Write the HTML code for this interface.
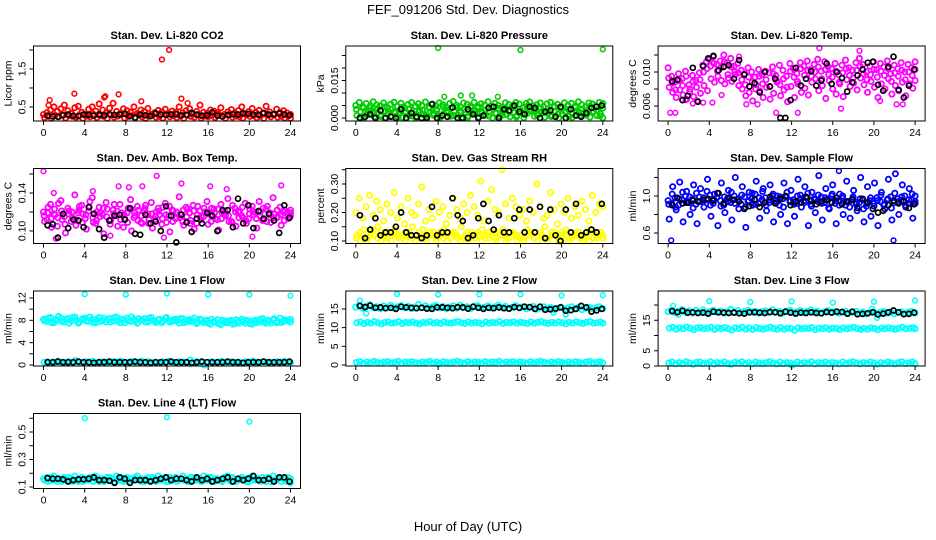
<!DOCTYPE html>
<html><head><meta charset="utf-8"><style>
html,body{margin:0;padding:0;background:#fff}
svg{display:block;font-family:"Liberation Sans",Arial,sans-serif}
</style></head><body>
<svg id="fig" width="936" height="540" viewBox="0 0 936 540" xmlns="http://www.w3.org/2000/svg">
<rect width="936" height="540" fill="#fff"/>
<text x="468" y="14" text-anchor="middle" font-size="13">FEF_091206  Std. Dev. Diagnostics</text>
<text x="468" y="531" text-anchor="middle" font-size="13">Hour of Day (UTC)</text>
</svg>
<script>
const xTicks=[0,4,8,12,16,20,24];
// CO2
const co2A=[0.3,0.35,0.42,0.5,0.38,0.45,0.55,0.4,0.33,0.48,0.52,0.36,0.3,0.44,0.5,0.39,0.58,0.42,0.34,0.47,0.6,0.38,0.32,0.45,0.4,0.36,0.5,0.33,0.42,0.38,0.46,0.3,0.35,0.41,0.37,0.44,0.32,0.39,0.36,0.5,0.34,0.4,0.45,0.31,0.38,0.55,0.36,0.33,0.42,0.39,0.35,0.48,0.3,0.37,0.43,0.34,0.4,0.5,0.32,0.38,0.46,0.35,0.41,0.33,0.52,0.37,0.3,0.44,0.36,0.4,0.34,0.3];
const co2B=[0.22,0.26,0.2,0.28,0.24,0.3,0.21,0.27,0.25,0.23,0.29,0.2,0.26,0.24,0.31,0.22,0.27,0.25,0.2,0.28,0.23,0.26,0.3,0.21,0.25,0.27,0.22,0.29,0.24,0.2,0.26,0.28,0.23,0.25,0.21,0.3,0.24,0.27,0.22,0.26,0.2,0.28,0.25,0.23,0.29,0.21,0.26,0.24,0.27,0.22,0.3,0.25,0.2,0.28,0.23,0.26,0.24,0.21,0.29,0.25,0.27,0.22,0.26,0.2,0.28,0.24,0.3,0.23,0.25,0.21,0.27,0.2];
const co2OutX=[11.5,12.2,3,7.3,13.4,0.6,6,9.5,0.5,5.9,14];
const co2OutY=[1.75,2.0,0.85,0.83,0.72,0.68,0.78,0.65,0.55,0.75,0.6];
const co2K=[0.27,0.25,0.24,0.28,0.3,0.27,0.26,0.3,0.29,0.27,0.3,0.28,0.31,0.29,0.3,0.32,0.26,0.22,0.3,0.28,0.26,0.33,0.3,0.29,0.3,0.31,0.28,0.29,0.34,0.3,0.27,0.28,0.36,0.27,0.25,0.29,0.31,0.3,0.33,0.32,0.3,0.29,0.34,0.3,0.31,0.33,0.3,0.28];
// Pressure
const pA=[0.005,0.0062,0.0045,0.0058,0.004,0.0065,0.0052,0.0048,0.006,0.0043,0.0055,0.0063,0.0047,0.0059,0.0041,0.0054,0.0062,0.0046,0.0057,0.005,0.0064,0.0044,0.0056,0.0049,0.0061,0.0053,0.0042,0.0058,0.0066,0.0051,0.0045,0.006,0.0055,0.0048,0.0063,0.004,0.0057,0.0052,0.0065,0.0046,0.0059,0.005,0.0043,0.0061,0.0054,0.0047,0.0062,0.0056,0.0041,0.0058,0.0064,0.0049,0.0053,0.006,0.0045,0.0057,0.0063,0.0048,0.0055,0.0042,0.0061,0.0051,0.0059,0.0046,0.0065,0.0053,0.0044,0.006,0.0056,0.0049,0.0062,0.0058];
const pB=[0.001,0.0025,0,0.0018,0.003,0.0005,0.0022,0.0012,0,0.0028,0.0008,0.002,0.0015,0.0003,0.0026,0.001,0.0019,0,0.003,0.0014,0.0006,0.0024,0.0011,0.0029,0.0002,0.0017,0.0021,0.0007,0.0027,0.0013,0,0.0023,0.0009,0.0016,0.003,0.0004,0.002,0.0012,0.0026,0,0.0018,0.0008,0.0028,0.0014,0.0005,0.0022,0.001,0.0025,0.0001,0.0019,0.0029,0.0007,0.0016,0.0024,0.0003,0.0021,0.0011,0.0027,0,0.0015,0.0023,0.0006,0.0018,0.0028,0.0009,0.002,0.0013,0.0004,0.0026,0.001,0.0017,0.0001];
const pC=[0.0035,0.0002,0.004,0.0012,0.0048,0.0022,0.0038,0.0006,0.0044,0.0016,0.0034,0.0026,0.0004,0.0042,0.002,0.0036,0.0008,0.0046,0.0024,0.0032,0.0012,0.004,0.0018,0.0036,0.0005,0.0044,0.0028,0.0038,0.001,0.0042,0.0022,0.0034,0.0002,0.004,0.0016,0.0046,0.0026,0.0032,0.0008,0.0044,0.002,0.0038,0.0012,0.0034,0.0024,0.0042,0.0004,0.0036,0.0018,0.0046,0.0028,0.0032,0.001,0.004,0.0022,0.0036,0.0006,0.0044,0.0016,0.0038,0.0026,0.0034,0.0002,0.0042,0.002,0.0036,0.0012,0.0046,0.0024,0.0032,0.0008,0.004];
const pOutX=[8,16,24,8.6,10.2,11.3,13.8];
const pOutY=[0.028,0.0272,0.0275,0.0085,0.009,0.009,0.0085];
const pK=[0,0.0005,0.0015,0,0.003,0,0.0005,0,0.0035,0,0.002,0.0005,0,0,0.0055,0,0.001,0.0005,0.0042,0,0,0.0035,0.0015,0,0.001,0.004,0.0045,0,0.0035,0.003,0.005,0.0025,0.0015,0.0045,0.004,0,0.0025,0.003,0.0005,0.0045,0,0.0035,0.001,0.0005,0.002,0.004,0.0045,0.005];
// Li-820 temp
const tA=[0.0105,0.0095,0.0088,0.0098,0.0092,0.0101,0.0085,0.0096,0.0090,0.0099,0.0108,0.0112,0.0115,0.0118,0.0109,0.0113,0.0120,0.0111,0.0116,0.0107,0.0110,0.0102,0.0098,0.0105,0.0100,0.0094,0.0103,0.0097,0.0101,0.0099,0.0106,0.0096,0.0108,0.0102,0.0095,0.0110,0.0104,0.0098,0.0111,0.0107,0.0113,0.0103,0.0109,0.0115,0.0101,0.0112,0.0106,0.0104,0.0110,0.0097,0.0108,0.0114,0.0105,0.0102,0.0111,0.0116,0.0109,0.0100,0.0107,0.0112,0.0103,0.0110,0.0106,0.0113,0.0098,0.0108,0.0104,0.0111,0.0100,0.0109,0.0105,0.0112];
const tB=[0.0082,0.0076,0.0070,0.0079,0.0073,0.0068,0.0080,0.0071,0.0066,0.0075,0.0084,0.0078,0.0092,0.0088,0.0095,0.0090,0.0086,0.0093,0.0089,0.0097,0.0084,0.0080,0.0072,0.0076,0.0066,0.0085,0.0078,0.0070,0.0082,0.0068,0.0075,0.0088,0.0072,0.0079,0.0065,0.0083,0.0070,0.0086,0.0076,0.0081,0.0073,0.0088,0.0092,0.0078,0.0084,0.0069,0.0090,0.0080,0.0074,0.0086,0.0071,0.0091,0.0083,0.0087,0.0079,0.0093,0.0085,0.0076,0.0089,0.0082,0.0070,0.0086,0.0080,0.0092,0.0074,0.0084,0.0078,0.0088,0.0072,0.0086,0.0081,0.0090];
const tC=[0.0093,0.0087,0.0079,0.0090,0.0084,0.0095,0.0077,0.0089,0.0082,0.0091,0.0100,0.0104,0.0107,0.0110,0.0101,0.0105,0.0112,0.0097,0.0106,0.0100,0.0099,0.0091,0.0085,0.0094,0.0088,0.0080,0.0095,0.0086,0.0091,0.0083,0.0098,0.0090,0.0085,0.0092,0.0082,0.0101,0.0094,0.0089,0.0104,0.0096,0.0102,0.0095,0.0100,0.0106,0.0092,0.0103,0.0097,0.0094,0.0101,0.0088,0.0099,0.0104,0.0096,0.0093,0.0102,0.0107,0.0098,0.0091,0.0097,0.0103,0.0094,0.0101,0.0096,0.0104,0.0089,0.0099,0.0095,0.0102,0.0091,0.0100,0.0096,0.0103];
const tOutX=[0.2,0.7,1.7,2.4,3.4,4.3,5.2,6.9,7.6,8.7,10.5,12.6,16.8,18.6,20.6,22.2,22.8,14.7];
const tOutY=[0.0052,0.0052,0.0067,0.0063,0.0064,0.0064,0.0073,0.0118,0.0062,0.0062,0.0052,0.0052,0.0057,0.0125,0.0066,0.0062,0.0062,0.0128];
const tK=[0.0089,0.0091,0.0067,0.0072,0.0105,0.0065,0.0107,0.0116,0.0119,0.0102,0.0106,0.0108,0.0092,0.0114,0.0097,0.0083,0.0087,0.0076,0.0100,0.0083,0.0092,0.0046,0.0046,0.0067,0.0105,0.0084,0.0092,0.0101,0.0084,0.0090,0.0110,0.0086,0.0100,0.0093,0.0077,0.0088,0.0096,0.0103,0.0111,0.0112,0.0085,0.0078,0.0106,0.0118,0.0079,0.0070,0.0084,0.0103];
// Amb box temp
const aA=[0.120,0.112,0.128,0.118,0.105,0.132,0.115,0.124,0.110,0.138,0.119,0.127,0.113,0.121,0.135,0.108,0.125,0.117,0.130,0.111,0.122,0.116,0.128,0.104,0.119,0.133,0.114,0.126,0.109,0.121,0.118,0.130,0.112,0.124,0.107,0.129,0.116,0.122,0.113,0.136,0.110,0.125,0.119,0.127,0.108,0.121,0.115,0.131,0.117,0.123,0.112,0.128,0.118,0.134,0.110,0.124,0.120,0.116,0.129,0.113,0.126,0.119,0.131,0.111,0.123,0.117,0.135,0.114,0.125,0.120,0.118,0.122];
const aB=[0.110,0.125,0.104,0.117,0.129,0.112,0.098,0.121,0.114,0.106,0.126,0.118,0.102,0.131,0.109,0.120,0.115,0.097,0.123,0.111,0.128,0.105,0.119,0.113,0.124,0.100,0.116,0.122,0.108,0.127,0.112,0.103,0.120,0.117,0.125,0.109,0.099,0.121,0.114,0.118,0.106,0.123,0.111,0.102,0.126,0.115,0.120,0.107,0.124,0.113,0.101,0.119,0.116,0.110,0.127,0.105,0.121,0.114,0.108,0.123,0.117,0.103,0.120,0.112,0.126,0.109,0.118,0.115,0.106,0.122,0.113,0.119];
const aC=[0.116,0.119,0.113,0.123,0.114,0.121,0.107,0.118,0.120,0.112,0.122,0.109,0.117,0.125,0.114,0.111,0.119,0.124,0.115,0.107,0.118,0.121,0.112,0.117,0.109,0.123,0.119,0.111,0.116,0.124,0.108,0.118,0.115,0.121,0.113,0.117,0.126,0.110,0.120,0.114,0.122,0.115,0.108,0.121,0.117,0.112,0.124,0.118,0.110,0.119,0.123,0.113,0.121,0.116,0.109,0.120,0.114,0.125,0.111,0.118,0.121,0.113,0.116,0.124,0.110,0.119,0.114,0.122,0.117,0.111,0.120,0.116];
const aOutX=[0,1,4.8,7.3,8.3,9.6,11,13.4,16.2,17.8,23.1,1.2,11.7,20.3,6.5];
const aOutY=[0.163,0.140,0.142,0.147,0.146,0.147,0.158,0.150,0.147,0.144,0.148,0.092,0.093,0.094,0.095];
const aK=[0.106,0.107,0.093,0.118,0.103,0.112,0.111,0.104,0.125,0.118,0.102,0.093,0.111,0.116,0.117,0.112,0.124,0.097,0.096,0.117,0.108,0.110,0.100,0.126,0.116,0.088,0.117,0.109,0.099,0.113,0.108,0.119,0.116,0.100,0.122,0.122,0.104,0.134,0.108,0.127,0.103,0.121,0.113,0.118,0.111,0.098,0.127,0.114];
// RH
const rA=[0.20,0.25,0.18,0.22,0.26,0.19,0.24,0.21,0.17,0.23,0.20,0.27,0.18,0.22,0.16,0.25,0.20,0.19,0.23,0.29,0.17,0.21,0.18,0.24,0.20,0.22,0.16,0.19,0.25,0.21,0.18,0.23,0.20,0.26,0.22,0.19,0.31,0.17,0.24,0.28,0.21,0.20,0.35,0.23,0.18,0.25,0.22,0.19,0.21,0.17,0.24,0.20,0.30,0.22,0.18,0.19,0.27,0.21,0.16,0.23,0.20,0.25,0.18,0.22,0.19,0.24,0.21,0.17,0.26,0.20,0.23,0.22];
const rB=[0.12,0.10,0.14,0.11,0.13,0.12,0.15,0.10,0.11,0.13,0.12,0.14,0.11,0.12,0.10,0.13,0.15,0.12,0.11,0.14,0.10,0.12,0.13,0.11,0.12,0.14,0.10,0.13,0.12,0.11,0.15,0.12,0.10,0.13,0.11,0.12,0.14,0.12,0.11,0.13,0.10,0.12,0.14,0.11,0.13,0.12,0.10,0.12,0.11,0.14,0.12,0.13,0.10,0.12,0.15,0.11,0.12,0.13,0.10,0.12,0.14,0.11,0.12,0.13,0.11,0.10,0.12,0.14,0.11,0.12,0.13,0.12];
const rC=[0.11,0.13,0.12,0.10,0.12,0.14,0.11,0.13,0.12,0.11,0.10,0.13,0.12,0.11,0.13,0.12,0.11,0.10,0.13,0.12,0.11,0.13,0.12,0.10,0.13,0.11,0.12,0.11,0.13,0.12,0.10,0.11,0.13,0.12,0.11,0.13,0.10,0.11,0.13,0.12,0.11,0.13,0.12,0.10,0.11,0.13,0.12,0.11,0.10,0.12,0.13,0.11,0.12,0.13,0.11,0.10,0.13,0.12,0.11,0.13,0.12,0.10,0.11,0.12,0.13,0.11,0.12,0.10,0.13,0.11,0.12,0.11];
const rK=[0.19,0.11,0.14,0.18,0.12,0.13,0.13,0.15,0.20,0.13,0.12,0.12,0.11,0.12,0.22,0.12,0.13,0.13,0.25,0.19,0.17,0.11,0.12,0.18,0.23,0.17,0.14,0.19,0.13,0.13,0.18,0.21,0.13,0.21,0.13,0.22,0.11,0.21,0.12,0.10,0.21,0.13,0.23,0.12,0.13,0.14,0.13,0.23];
// Sample flow
const sA=[0.95,0.92,0.98,0.90,0.96,1.00,0.93,0.97,0.91,0.99,0.94,0.96,1.01,0.92,0.98,0.95,0.90,0.97,0.93,1.00,0.96,0.91,0.99,0.94,0.97,1.02,0.92,0.96,0.98,0.93,1.00,0.95,0.90,0.97,0.99,0.94,0.96,0.92,1.01,0.95,0.98,0.91,0.97,0.94,0.99,0.93,0.96,1.00,0.92,0.95,0.98,0.90,0.94,0.97,0.91,0.93,0.96,0.89,0.95,0.92,0.98,0.94,0.90,0.96,0.99,0.93,0.97,0.95,1.00,0.92,0.96,0.94];
const sB=[0.75,1.10,0.85,1.15,0.72,1.05,0.80,1.12,0.70,1.08,0.88,1.18,0.78,1.02,0.68,1.14,0.82,1.06,0.74,1.20,0.86,1.10,0.66,1.04,0.90,1.16,0.76,1.08,0.84,1.12,0.72,1.00,0.80,1.14,0.70,1.06,0.78,1.18,0.88,1.10,0.68,1.04,0.82,1.22,0.74,1.08,0.86,1.12,0.70,1.02,0.80,1.16,0.76,1.06,0.84,1.20,0.72,1.10,0.78,1.14,0.68,1.04,0.86,1.18,0.74,1.24,0.80,1.12,0.88,1.08,0.76,1.00];
const sC=[0.91,1.02,0.88,0.97,1.04,0.93,0.99,0.87,1.03,0.94,0.98,1.05,0.90,0.96,1.03,0.89,0.99,0.94,1.04,0.92,0.97,1.01,0.88,0.95,1.03,0.91,0.98,1.05,0.90,0.96,1.02,0.93,0.99,0.88,1.04,0.95,0.91,1.00,0.97,0.93,1.03,0.89,0.96,1.01,0.92,0.98,0.87,1.02,0.95,0.90,1.00,0.94,0.88,0.99,0.93,0.97,0.86,0.92,0.98,0.89,0.95,1.01,0.91,0.97,0.87,1.03,0.94,0.99,0.90,0.96,1.02,0.92];
const sOutX=[0.3,21.9,16.6];
const sOutY=[0.52,0.52,1.27];
const sK=[0.90,0.98,0.92,0.93,0.95,0.94,0.96,0.97,0.95,1.03,0.92,0.98,0.96,0.94,0.86,0.89,0.96,0.88,0.93,0.99,0.92,0.97,1.00,0.90,0.94,0.93,0.99,0.95,0.91,0.94,0.96,0.93,0.98,0.91,0.94,0.96,0.87,0.97,0.93,0.86,0.82,0.84,0.90,0.95,0.92,0.94,0.87,0.91];
// Line 1
const l1A=[8.2,7.8,8.5,7.6,8.0,8.4,7.7,8.3,7.9,8.6,7.5,8.1,8.4,7.8,8.2,7.6,8.5,8.0,7.7,8.3,7.9,8.6,7.6,8.1,8.4,7.8,8.2,7.5,8.0,8.3,7.7,8.5,7.9,8.1,7.6,8.4,8.0,7.8,8.2,7.5,8.3,7.7,8.1,7.9,7.4,8.2,7.6,8.0,7.3,7.8,8.1,7.2,7.9,7.6,8.0,7.4,7.8,8.2,7.5,7.9,7.3,8.0,7.7,8.3,7.5,7.9,8.1,7.6,8.4,7.8,8.0,7.7];
const l1B=[7.9,8.4,7.6,8.1,8.7,7.8,8.2,7.5,8.5,8.0,7.7,8.3,7.9,8.6,7.6,8.2,7.8,8.4,8.1,7.7,8.5,7.9,8.2,7.6,8.0,8.6,7.8,8.3,8.1,7.7,8.4,8.0,7.6,8.2,7.9,8.5,7.7,8.1,7.9,8.3,7.6,8.0,7.8,8.4,7.7,8.1,7.9,7.5,8.2,7.7,7.4,8.0,7.6,7.9,7.3,8.1,7.5,7.8,8.0,7.4,7.9,7.6,8.2,7.7,8.0,7.5,8.3,7.8,7.6,8.1,7.9,8.2];
const l1C=[0.5,0.6,0.4,0.5,0.7,0.5,0.4,0.6,0.5,0.8,0.5,0.4,0.6,0.5,0.7,0.4,0.5,0.6,0.5,0.4,0.6,0.5,0.7,0.5,0.4,0.6,0.5,0.5,0.7,0.4,0.6,0.5,0.5,0.4,0.6,0.5,0.7,0.5,0.4,0.6,0.5,0.5,0.9,0.4,0.6,0.5,0.0,0.5,0.6,0.4,0.5,0.7,0.5,0.4,0.6,0.5,0.5,0.4,0.6,0.5,0.7,0.5,0.4,0.6,0.5,0.5,0.4,0.6,0.5,0.7,0.5,0.4];
const l1OutX=[4,8,12,16,20,24];
const l1OutY=[12.7,12.6,12.8,12.6,12.6,12.4];
const l1K=[0.5,0.5,0.6,0.5,0.5,0.5,0.6,0.5,0.5,0.4,0.5,0.5,0.6,0.5,0.5,0.5,0.5,0.6,0.5,0.5,0.4,0.5,0.5,0.5,0.6,0.5,0.5,0.5,0.4,0.5,0.6,0.5,0.5,0.5,0.5,0.6,0.5,0.5,0.4,0.5,0.5,0.5,0.6,0.5,0.5,0.5,0.5,0.6];
// Line 2
const l2A=[15.5,15.9,15.2,15.7,16.1,15.3,15.6,15.0,15.8,15.4,16.0,15.2,15.6,15.9,15.3,15.7,15.1,15.5,16.2,15.4,15.8,15.2,15.6,15.9,15.3,15.7,15.0,15.5,15.8,15.2,16.0,15.4,15.6,15.1,15.7,15.9,15.3,15.5,15.8,15.2,15.6,16.0,15.4,15.7,15.1,15.5,15.9,15.3,15.6,15.0,15.4,15.7,14.9,15.3,15.6,15.0,15.4,14.8,15.2,15.5,14.9,15.3,15.6,15.0,15.4,14.8,15.2,15.5,15.0,15.3,15.6,15.1];
const l2B=[11.3,11.5,11.1,11.4,11.2,11.6,11.3,11.0,11.4,11.5,11.2,11.3,11.6,11.1,11.4,11.3,11.5,11.2,11.0,11.4,11.3,11.6,11.2,11.4,11.1,11.5,11.3,11.2,11.4,11.6,11.3,11.1,11.5,11.2,11.4,11.3,11.0,11.5,11.2,11.4,11.3,11.6,11.1,11.4,11.3,11.5,11.2,11.4,11.3,11.1,11.5,11.2,11.4,11.6,11.3,11.1,11.4,11.2,11.5,11.3,11.0,11.4,11.2,11.5,11.3,11.1,11.4,11.6,11.2,11.3,11.5,11.2];
const l2C=[0.7,0.9,0.5,0.8,0.6,1.0,0.7,0.5,0.8,0.9,0.6,0.7,1.0,0.5,0.8,0.7,0.9,0.6,0.5,0.8,0.7,1.0,0.6,0.8,0.5,0.9,0.7,0.6,0.8,1.0,0.7,0.5,0.9,0.6,0.8,0.7,0.5,0.9,0.6,0.8,0.7,1.0,0.5,0.8,0.7,0.9,0.6,0.8,0.7,0.5,0.9,0.6,0.8,1.0,0.7,0.5,0.8,0.6,0.9,0.7,0.5,0.8,0.6,0.9,0.7,0.5,0.8,1.0,0.6,0.7,0.9,0.6];
const l2OutX=[4,8,12,16,20,24,0.4,1,19.2,20.4,8];
const l2OutY=[19.0,18.8,18.9,18.9,18.6,18.7,17.2,13.8,14.0,13.5,0.2];
const l2K=[15.8,15.5,15.9,15.3,15.4,15.2,15.3,15.0,15.6,15.4,15.3,15.2,15.3,15.1,15.0,15.4,15.4,15.3,15.2,15.5,15.4,15.1,15.6,15.3,15.0,15.3,15.2,15.4,15.2,15.1,15.5,15.3,15.6,15.5,15.0,15.6,14.8,14.9,15.1,15.4,14.5,14.7,15.0,15.8,15.4,14.3,14.6,15.0];
// Line 3
const l3A=[17.8,18.3,17.5,18.0,18.5,17.6,18.1,17.3,18.2,17.7,18.4,17.5,17.9,18.3,17.6,18.0,17.4,17.8,18.6,17.7,18.2,17.5,17.9,18.3,17.6,18.0,17.3,17.8,18.1,17.5,18.4,17.7,17.9,17.4,18.0,18.3,17.6,17.8,18.2,17.5,17.9,18.4,17.7,18.0,17.4,17.8,18.2,17.6,17.9,17.3,17.7,18.0,17.2,17.6,17.9,17.3,17.7,17.1,17.5,17.8,17.2,17.6,17.9,17.3,17.7,17.1,17.5,17.8,17.3,17.6,17.9,17.4];
const l3B=[12.4,12.7,12.1,12.5,12.2,12.8,12.4,11.9,12.5,12.6,12.2,12.4,12.7,12.0,12.5,12.3,12.6,12.2,11.8,12.5,12.3,12.7,12.1,12.5,12.0,12.6,12.3,12.1,12.4,12.7,12.3,12.0,12.6,12.1,12.4,12.3,11.7,12.5,12.2,12.4,12.3,12.6,11.9,12.4,12.2,12.5,12.1,12.4,12.3,12.0,12.5,12.2,12.4,12.7,12.3,12.0,12.4,12.1,12.5,12.3,11.9,12.4,12.2,12.5,12.3,12.0,12.4,12.7,12.2,12.3,12.6,12.2];
const l3C=[1.0,1.3,0.7,1.1,0.8,1.4,1.0,0.6,1.2,1.3,0.8,1.0,1.4,0.7,1.1,1.0,1.3,0.8,0.6,1.2,1.0,1.4,0.8,1.1,0.7,1.3,1.0,0.8,1.1,1.4,1.0,0.7,1.3,0.8,1.1,1.0,0.6,1.3,0.8,1.1,1.0,1.4,0.7,1.1,1.0,1.3,0.8,1.1,1.0,0.7,1.3,0.8,1.1,1.4,1.0,0.7,1.1,0.8,1.3,1.0,0.6,1.1,0.8,1.3,1.0,0.7,1.1,1.4,0.8,1.0,1.3,0.8];
const l3OutX=[4,8,12,16,20,24,0.5,0.3,1,20.3,19.8,12];
const l3OutY=[21.3,21.0,21.2,20.8,21.1,21.5,19.7,18.2,16.8,15.8,18.8,0.1];
const l3K=[18.0,17.6,18.1,17.5,17.6,17.4,17.5,17.2,17.8,17.6,17.5,17.4,17.5,17.3,17.2,17.6,17.6,17.5,17.4,17.7,17.6,17.3,17.8,17.5,17.2,17.5,17.4,17.6,17.4,17.3,17.7,17.5,17.8,17.7,17.2,17.8,17.0,17.1,17.3,17.6,16.9,17.2,17.6,18.2,17.6,17.0,17.1,17.5];
// Line 4
const l4A=[0.16,0.17,0.15,0.18,0.14,0.16,0.17,0.15,0.16,0.18,0.14,0.17,0.16,0.15,0.17,0.18,0.14,0.16,0.15,0.17,0.16,0.18,0.15,0.14,0.17,0.16,0.15,0.18,0.16,0.14,0.17,0.15,0.16,0.18,0.15,0.17,0.14,0.16,0.17,0.15,0.18,0.16,0.14,0.17,0.15,0.16,0.18,0.15,0.17,0.14,0.16,0.15,0.17,0.18,0.14,0.16,0.15,0.17,0.16,0.14,0.18,0.15,0.16,0.17,0.14,0.16,0.18,0.15,0.17,0.16,0.14,0.16];
const l4B=[0.15,0.14,0.17,0.15,0.16,0.14,0.15,0.17,0.14,0.15,0.16,0.14,0.15,0.17,0.14,0.15,0.16,0.14,0.17,0.15,0.14,0.16,0.17,0.15,0.14,0.16,0.17,0.15,0.14,0.16,0.15,0.17,0.14,0.15,0.16,0.14,0.17,0.15,0.14,0.16,0.15,0.14,0.17,0.15,0.16,0.14,0.15,0.17,0.14,0.16,0.15,0.14,0.16,0.15,0.17,0.14,0.16,0.15,0.14,0.17,0.15,0.16,0.14,0.15,0.17,0.14,0.15,0.16,0.14,0.15,0.17,0.13];
const l4OutX=[4,12,20];
const l4OutY=[0.600,0.608,0.575];
const l4K=[0.165,0.160,0.160,0.155,0.140,0.150,0.155,0.155,0.160,0.170,0.150,0.150,0.145,0.130,0.170,0.160,0.130,0.150,0.150,0.150,0.140,0.150,0.160,0.170,0.150,0.160,0.160,0.150,0.140,0.170,0.150,0.160,0.140,0.150,0.160,0.170,0.140,0.160,0.150,0.160,0.180,0.150,0.150,0.160,0.140,0.170,0.170,0.140];

const svg=document.getElementById('fig');
const NS='http://www.w3.org/2000/svg';
function mk(tag,attrs,parent){const e=document.createElementNS(NS,tag);for(const k in attrs)e.setAttribute(k,attrs[k]);parent.appendChild(e);return e;}
const colX=[33.5,345.8,658.1], rowT=[46,168.5,291,413.5], PW=267, PH=75;
function idxHours(n,off){const h=[];for(let i=0;i<n;i++)h.push(Math.min(24,i*24/(n-1)+off));return h;}
function blkHours(n){const h=[];for(let i=0;i<n;i++)h.push(0.4+i*23.5/(n-1));return h;}

const panels=[
 {name:'co2',title:'Stan. Dev. Li-820 CO2',ylab:'Licor ppm',c:0,r:0,lo:0.13,hi:2.105,ticks:[0.5,1,1.5,2],labels:['0.5','','1.5',''],col:'#ff0000',cs:[co2A,co2B],ox:co2OutX,oy:co2OutY,k:co2K},
 {name:'pressure',title:'Stan. Dev. Li-820 Pressure',ylab:'kPa',c:1,r:0,lo:-0.0012,hi:0.0288,ticks:[0,0.005,0.01,0.015,0.02,0.025],labels:['0.000','','','0.015','',''],col:'#00cd00',cs:[pA,pB,pC],ox:pOutX,oy:pOutY,k:pK},
 {name:'li820-temp',title:'Stan. Dev. Li-820 Temp.',ylab:'degrees C',c:2,r:0,lo:0.00424,hi:0.01306,ticks:[0.006,0.008,0.010,0.012],labels:['0.006','','0.010',''],col:'#ff00ff',cs:[tA,tB,tC],ox:tOutX,oy:tOutY,k:tK},
 {name:'amb-box-temp',title:'Stan. Dev. Amb. Box Temp.',ylab:'degrees C',c:0,r:1,lo:0.0868,hi:0.1658,ticks:[0.10,0.12,0.14,0.16],labels:['0.10','','0.14',''],col:'#ff00ff',cs:[aA,aB,aC],ox:aOutX,oy:aOutY,k:aK},
 {name:'gas-rh',title:'Stan. Dev. Gas Stream RH',ylab:'percent',c:1,r:1,lo:0.0912,hi:0.3544,ticks:[0.10,0.15,0.20,0.25,0.30,0.35],labels:['0.10','','0.20','','0.30',''],col:'#ffff00',cs:[rA,rB,rC],ox:[],oy:[],k:rK},
 {name:'sample-flow',title:'Stan. Dev. Sample Flow',ylab:'ml/min',c:2,r:1,lo:0.4865,hi:1.297,ticks:[0.6,0.8,1.0,1.2],labels:['0.6','','1.0',''],col:'#0000ff',cs:[sA,sB,sC],ox:sOutX,oy:sOutY,k:sK},
 {name:'line1-flow',title:'Stan. Dev. Line 1 Flow',ylab:'ml/min',c:0,r:2,lo:-0.18,hi:13.25,ticks:[0,2,4,6,8,10,12],labels:['0','','4','','8','','12'],col:'#00ffff',cs:[l1A,l1B,l1C],ox:l1OutX,oy:l1OutY,k:l1K},
 {name:'line2-flow',title:'Stan. Dev. Line 2 Flow',ylab:'ml/min',c:1,r:2,lo:-0.27,hi:19.8,ticks:[0,5,10,15],labels:['0','5','10','15'],col:'#00ffff',cs:[l2A,l2B,l2C],ox:l2OutX,oy:l2OutY,k:l2K},
 {name:'line3-flow',title:'Stan. Dev. Line 3 Flow',ylab:'ml/min',c:2,r:2,lo:0,hi:24.6,ticks:[0,5,10,15,20],labels:['0','5','','15',''],col:'#00ffff',cs:[l3A,l3B,l3C],ox:l3OutX,oy:l3OutY,k:l3K},
 {name:'line4-flow',title:'Stan. Dev. Line 4 (LT) Flow',ylab:'ml/min',c:0,r:3,lo:0.089,hi:0.6345,ticks:[0.1,0.2,0.3,0.4,0.5,0.6],labels:['0.1','','0.3','','0.5',''],col:'#00ffff',cs:[l4A,l4B],ox:l4OutX,oy:l4OutY,k:l4K}
];

panels.forEach(p=>{
 const L=colX[p.c], T=rowT[p.r], B=T+PH, R=L+PW;
 const xs=h=>L+10+h*(247/24);
 const ys=v=>B-(v-p.lo)/(p.hi-p.lo)*PH;
 const g=mk('g',{},svg);
 
 
 const t=mk('text',{x:(L+R)/2,y:T-7,'text-anchor':'middle','font-size':'11','font-weight':'bold'},g);
 t.textContent=p.title;
 
 
 const yl=mk('text',{x:L-22,y:(T+B)/2,'text-anchor':'middle','font-size':'10.5',transform:`rotate(-90 ${L-22} ${(T+B)/2})`},g);
 yl.textContent=p.ylab;
 
 
 const pts=mk('g',{fill:'none','stroke-width':'1.8'},g);
 
 
 const offs=[0,0.11,0.06];
 p.cs.forEach((arr,si)=>{const hs=idxHours(arr.length,offs[si%3]);arr.forEach((v,i)=>{
   const c=mk('circle',{cx:xs(hs[i]).toFixed(1),cy:ys(v).toFixed(1),r:2.6,stroke:p.col},pts);
   
   
 });});
 p.ox.forEach((h,i)=>{
   const c=mk('circle',{cx:xs(h).toFixed(1),cy:ys(p.oy[i]).toFixed(1),r:2.4,stroke:p.col,'stroke-width':1.5},pts);
   
   
 });
 const kh=blkHours(p.k.length);
 p.k.forEach((v,i)=>{
   const c=mk('circle',{cx:xs(kh[i]).toFixed(1),cy:ys(v).toFixed(1),r:2.5,stroke:'#000','stroke-width':1.7},pts);
   
   
 });
 const fr=mk('rect',{x:L,y:T,width:PW,height:PH,fill:'none',stroke:'#000','stroke-width':1},g);
 
 
 const xa=mk('g',{},g);
 
 
 xTicks.forEach(h=>{
   mk('line',{x1:xs(h),x2:xs(h),y1:B,y2:B+4,stroke:'#000'},xa);
   const tl=mk('text',{x:xs(h),y:B+15,'text-anchor':'middle','font-size':'10.5'},xa);
   tl.textContent=String(h);
   
   
 });
 const ya=mk('g',{},g);
 
 
 p.ticks.forEach((v,i)=>{
   const y=ys(v);
   mk('line',{x1:L-4,x2:L,y1:y,y2:y,stroke:'#000'},ya);
   if(p.labels[i]){
     const tl=mk('text',{x:L-8,y:y,'text-anchor':'middle','font-size':'10.5',transform:`rotate(-90 ${L-8} ${y})`},ya);
     tl.textContent=p.labels[i];
     
     
   }
 });
});
</script>
</body></html>
